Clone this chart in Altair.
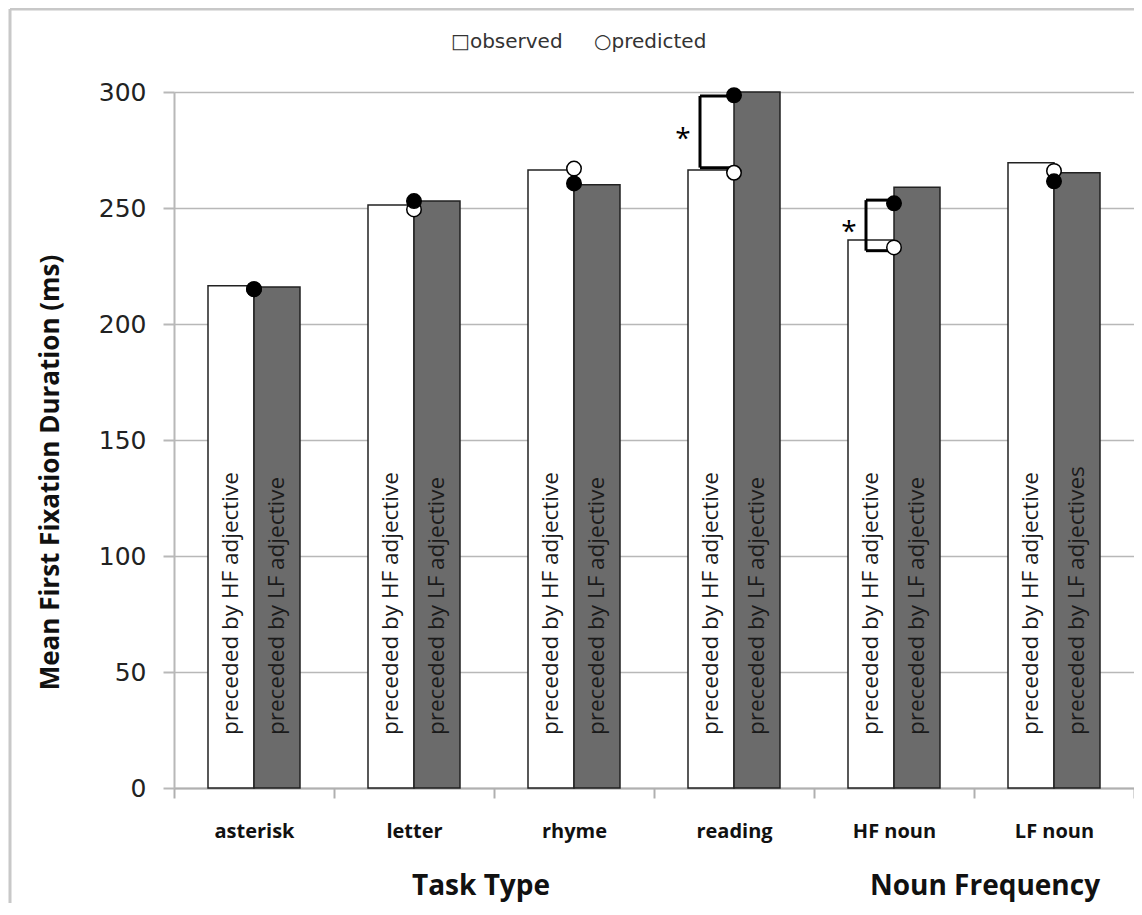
import altair as alt
import pandas as pd

categories = ["asterisk", "letter", "rhyme", "reading", "HF noun", "LF noun"]
observed_hf = [216.5, 251.3, 266.4, 266.4, 236.2, 269.5]
observed_lf = [216.0, 253.0, 260.0, 300.0, 258.9, 265.2]
predicted_hf = [215.0, 249.4, 267.0, 265.2, 233.0, 266.0]
predicted_lf = [215.0, 253.0, 260.6, 298.6, 252.0, 261.5]
hf_labels = ["preceded by HF adjective"] * 6
lf_labels = ["preceded by LF adjective"] * 5 + ["preceded by LF adjectives"]
conditions = ["HF", "LF"]

sig_categories = ["reading", "HF noun"]
sig_upper = [298.3, 253.4]
sig_lower = [267.4, 231.6]
sig_marks = ["*", "*"]

legend_symbols = ["\u25a1observed", "\u25cbpredicted"]
group_titles = ["Task Type", "Noun Frequency"]

bars = pd.DataFrame(
    {
        "category": categories * 2,
        "cond": ["HF"] * 6 + ["LF"] * 6,
        "observed": observed_hf + observed_lf,
        "predicted": predicted_hf + predicted_lf,
        "label": hf_labels + lf_labels,
    }
)
sig = pd.DataFrame({"category": sig_categories, "upper": sig_upper, "lower": sig_lower, "mark": sig_marks})

x_enc = alt.X(
    "category:N",
    sort=categories,
    scale=alt.Scale(paddingInner=0, paddingOuter=0),
    axis=alt.Axis(
        title=None,
        labelAngle=0,
        tickBand="extent",
        domainColor="#b0b0b0",
        domainWidth=2,
        tickColor="#b0b0b0",
        tickWidth=2,
        tickSize=10,
        labelPadding=23,
        labelFont="Open Sans",
        labelFontWeight="bold",
        labelFontSize=20,
        labelColor="#111",
        grid=False,
    ),
)
x_center = alt.X("category:N", sort=categories, bandPosition=0.5)
y_scale = alt.Scale(domain=[0, 300], nice=False)
offset_scale = alt.Scale(domain=conditions, paddingInner=0, paddingOuter=0.739)

base = alt.Chart(bars)

bar_layer = base.mark_bar(stroke="#222", strokeWidth=1.5).encode(
    x=x_enc,
    xOffset=alt.XOffset("cond:N", scale=offset_scale),
    y=alt.Y(
        "observed:Q",
        scale=y_scale,
        axis=alt.Axis(
            values=[0, 50, 100, 150, 200, 250, 300],
            title="Mean First Fixation Duration (ms)",
            titleFont="Open Sans",
            titleFontWeight="bold",
            titleFontSize=26,
            titleColor="#111",
            titleAngle=-90,
            titleAlign="center",
            titleBaseline="middle",
            titleX=-124,
            titleY=380,
            labelFont="DejaVu Sans",
            labelFontSize=25,
            labelColor="#222",
            labelPadding=17,
            tickSize=11,
            tickColor="#b8b8b8",
            tickWidth=2,
            domainColor="#b8b8b8",
            domainWidth=2,
            gridColor="#b8b8b8",
            gridWidth=1.5,
        ),
    ),
    fill=alt.Fill("cond:N", scale=alt.Scale(domain=conditions, range=["white", "#6b6b6b"]), legend=None),
)

text_layer = base.mark_text(
    angle=270, align="left", baseline="middle", font="Open Sans", fontSize=22.5, color="#1a1a1a"
).encode(
    x=alt.X("category:N", sort=categories),
    xOffset=alt.XOffset("cond:N", scale=offset_scale),
    y=alt.value(643),
    text="label:N",
)

def bracket(cat, off):
    d = alt.Chart(sig).transform_filter(alt.datum.category == cat)
    vert = d.mark_rule(xOffset=off, color="black", strokeWidth=3).encode(
        x=x_center, y=alt.Y("upper:Q", scale=y_scale), y2="lower:Q"
    )
    top = d.mark_rule(xOffset=off, x2Offset=0, color="black", strokeWidth=3).encode(
        x=x_center, x2=alt.X2("category", bandPosition=0.5), y=alt.Y("upper:Q", scale=y_scale)
    )
    bot = d.mark_rule(xOffset=off, x2Offset=0, color="black", strokeWidth=3).encode(
        x=x_center, x2=alt.X2("category", bandPosition=0.5), y=alt.Y("lower:Q", scale=y_scale)
    )
    star = d.transform_calculate(mid="(datum.upper + datum.lower) / 2").mark_text(
        dx=off - 17, dy=8, font="Open Sans", fontSize=28, color="black", align="center", baseline="middle"
    ).encode(x=x_center, y=alt.Y("mid:Q", scale=y_scale), text="mark:N")
    return [vert, top, bot, star]

brackets = bracket("reading", -34) + bracket("HF noun", -28)

pts_hf = base.transform_filter(alt.datum.cond == "HF").mark_point(
    shape="circle", filled=True, size=210, stroke="black", strokeWidth=1.5, opacity=1
).encode(x=x_center, y=alt.Y("predicted:Q", scale=y_scale), fill=alt.value("white"))
pts_lf = base.transform_filter(alt.datum.cond == "LF").mark_point(
    shape="circle", filled=True, size=210, stroke="black", strokeWidth=1.5, opacity=1
).encode(x=x_center, y=alt.Y("predicted:Q", scale=y_scale), fill=alt.value("black"))

leg1 = alt.Chart(pd.DataFrame({"t": [legend_symbols[0]]})).mark_text(
    align="left", baseline="middle", font="DejaVu Sans", fontSize=20, color="#333"
).encode(x=alt.value(277), y=alt.value(-50), text="t:N")
leg2 = alt.Chart(pd.DataFrame({"t": [legend_symbols[1]]})).mark_text(
    align="left", baseline="middle", font="DejaVu Sans", fontSize=20, color="#333"
).encode(x=alt.value(420), y=alt.value(-50), text="t:N")

g1 = alt.Chart(pd.DataFrame({"t": [group_titles[0]]})).mark_text(
    align="center", baseline="middle", font="Open Sans", fontWeight="bold", fontSize=28, color="#111"
).encode(x=alt.value(307), y=alt.value(795), text="t:N")
g2 = alt.Chart(pd.DataFrame({"t": [group_titles[1]]})).mark_text(
    align="center", baseline="middle", font="Open Sans", fontWeight="bold", fontSize=28, color="#111"
).encode(x=alt.value(811), y=alt.value(795), text="t:N")

frame_top = alt.Chart(pd.DataFrame({"a": [0]})).mark_rule(color="#c8c8c8", strokeWidth=3).encode(
    x=alt.value(-164), x2=alt.value(970), y=alt.value(-83)
)
frame_left = alt.Chart(pd.DataFrame({"a": [0]})).mark_rule(color="#c8c8c8", strokeWidth=3).encode(
    x=alt.value(-164), y=alt.value(-83), y2=alt.value(820)
)

chart = alt.layer(
    frame_top, frame_left, bar_layer, text_layer, *brackets, pts_hf, pts_lf, leg1, leg2, g1, g2
).properties(
    width=960,
    height=696,
    padding={"left": 166, "top": 84, "right": 0, "bottom": 115},
    autosize=alt.AutoSizeParams(type="none"),
).configure_view(stroke=None).configure(background="white")

chart.save("out.html", embed_options={"renderer": "svg", "actions": False})
